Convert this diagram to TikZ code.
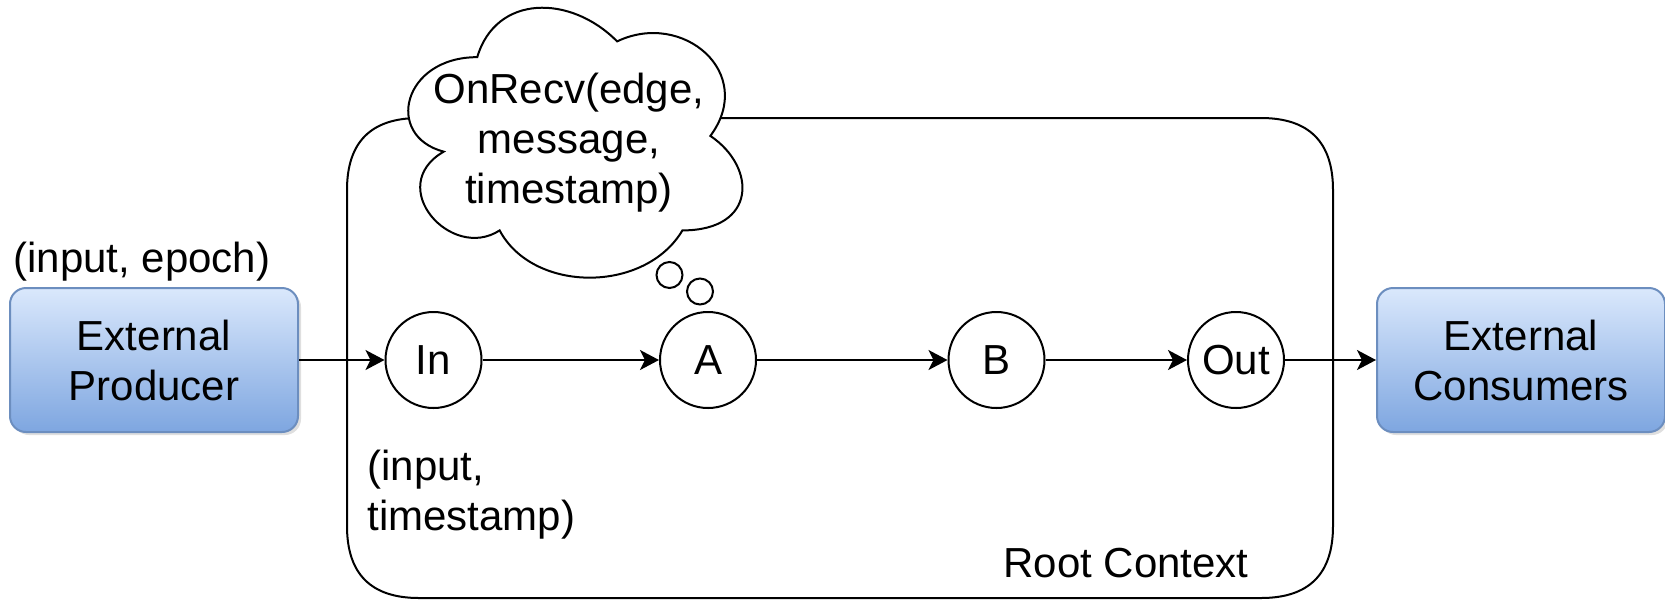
\documentclass[tikz,border=0pt]{standalone}
\usepackage{fontspec}
\setmainfont{Liberation Sans}
\usetikzlibrary{arrows.meta,shadows}
\definecolor{boxtop}{HTML}{DAE8FC}
\definecolor{boxbot}{HTML}{7EA6E0}
\definecolor{boxline}{HTML}{6C8EBF}
\tikzset{
  extbox/.style={draw=boxline, line width=1pt, rounded corners=8pt,
    top color=boxtop, bottom color=boxbot, minimum width=144pt,
    minimum height=72pt, align=center, inner sep=0pt,
    drop shadow={opacity=0.25, shadow xshift=1.5pt, shadow yshift=-1.5pt}},
  stage/.style={circle, draw, line width=1pt, minimum size=48pt, inner sep=0pt},
  flow/.style={-{Stealth[length=9.5pt,width=10pt,inset=2.5pt]}, line width=1pt},
  lbl/.style={inner sep=0pt}
}
\begin{document}
\begin{tikzpicture}[x=0.5pt, y=-0.5pt, font=\fontsize{21}{25}\selectfont]
\useasboundingbox (0,0) rectangle (1665,601);

% root context container
\draw[line width=1pt] (419,118) -- (1261,118)
  .. controls (1309,118) and (1333,142) .. (1333,190) -- (1333,526)
  .. controls (1333,574) and (1309,598) .. (1261,598) -- (419,598)
  .. controls (371,598) and (347,574) .. (347,526) -- (347,190)
  .. controls (347,142) and (371,118) .. (419,118) -- cycle;
\node[lbl, anchor=base west] (rootlbl) at (1003,577) {Root Context};

% thought cloud over node A
\begin{scope}[shift={(384,-21.6)}, x=186.5pt, y=-157.5pt]
  \draw[line width=1pt, fill=white] (0.25,0.25)
    .. controls (0.05,0.25) and (0,0.5) .. (0.16,0.55)
    .. controls (0,0.66) and (0.18,0.9) .. (0.31,0.8)
    .. controls (0.4,1) and (0.7,1) .. (0.8,0.8)
    .. controls (1,0.8) and (1,0.6) .. (0.875,0.5)
    .. controls (1,0.3) and (0.8,0.1) .. (0.625,0.2)
    .. controls (0.5,0.05) and (0.3,0.05) .. (0.25,0.25) -- cycle;
\end{scope}
% multi-line labels: the base anchor sits on the last line
\node[lbl, align=center, anchor=base] (recv) at (569,203)
  {OnRecv(edge,\\message,\\timestamp)};
\draw[line width=1pt] (669.5,275) circle[radius=6.5pt];
\draw[line width=1pt] (700,291.5) circle[radius=6.5pt];

% endpoints outside the context
\node[extbox] (prod) at (154,360) {External\\Producer};
\node[extbox] (cons) at (1521,360) {External\\Consumers};
\node[lbl, anchor=base west] (epoch) at (13,272) {(input, epoch)};

% dataflow stages
\node[stage] (in) at (433.5,360) {In};
\node[stage] (a) at (708,360) {A};
\node[stage] (b) at (996.5,360) {B};
\node[stage] (out) at (1236,360) {Out};
\node[lbl, align=left, anchor=base west] (stamp) at (367,530) {(input,\\timestamp)};

\draw[flow] (prod) -- (in);
\draw[flow] (in) -- (a);
\draw[flow] (a) -- (b);
\draw[flow] (b) -- (out);
\draw[flow] (out) -- (cons);
\end{tikzpicture}
\end{document}
